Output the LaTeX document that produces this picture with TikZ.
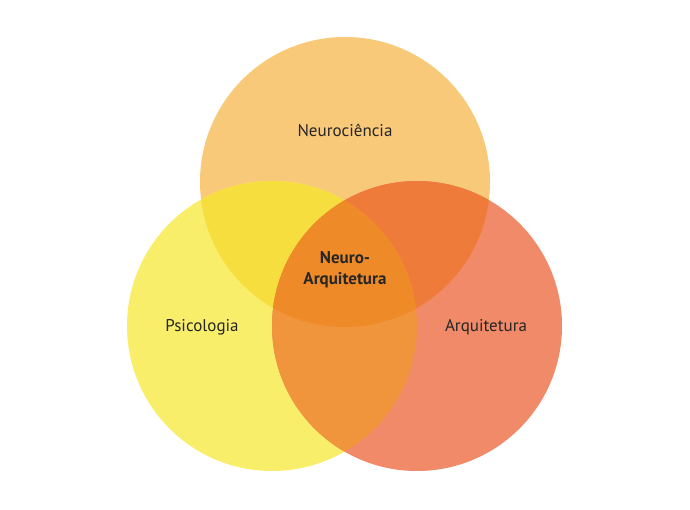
\documentclass[tikz,border=0pt]{standalone}
\usepackage{fontspec}
\setmainfont{PT Sans}
\definecolor{cT}{RGB}{249,201,122}
\definecolor{cL}{RGB}{249,238,106}
\definecolor{cR}{RGB}{240,138,104}
\definecolor{cTL}{RGB}{247,222,63}
\definecolor{cTR}{RGB}{238,123,58}
\definecolor{cLR}{RGB}{240,149,60}
\definecolor{cA}{RGB}{239,138,40}
\begin{document}
\begin{tikzpicture}[x=1pt,y=-1pt,lbl/.style={font=\fontsize{17}{20}\selectfont,text=black!85}]
\useasboundingbox (0,0) rectangle (690,510);
\def\R{145}
\coordinate (T) at (345,182);
\coordinate (L) at (272,326);
\coordinate (Rr) at (417,326);
\fill[cT] (T) circle (\R);
\fill[cL] (L) circle (\R);
\fill[cR] (Rr) circle (\R);
\begin{scope}\clip (T) circle (\R); \fill[cTL] (L) circle (\R);\end{scope}
\begin{scope}\clip (T) circle (\R); \fill[cTR] (Rr) circle (\R);\end{scope}
\begin{scope}\clip (L) circle (\R); \fill[cLR] (Rr) circle (\R);\end{scope}
\begin{scope}\clip (L) circle (\R); \clip (Rr) circle (\R); \fill[cA] (T) circle (\R);\end{scope}
\node[lbl] (n) at (345,130) {Neurociência};
\node[lbl] (p) at (202,327) {Psicologia};
\node[lbl] (a) at (486,327) {Arquitetura};
\node[lbl,font=\fontsize{17}{21}\selectfont\bfseries,align=center] (c) at (345,270) {Neuro-\\Arquitetura};
\end{tikzpicture}
\end{document}
